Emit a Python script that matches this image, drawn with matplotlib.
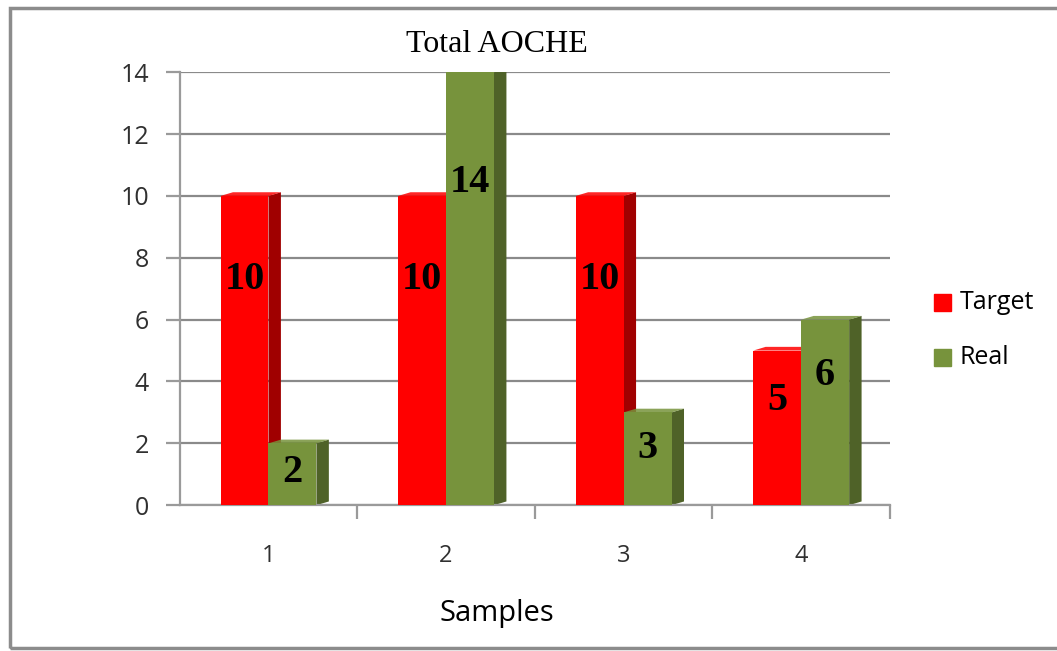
import numpy as np
import matplotlib.pyplot as plt
from matplotlib.patches import Polygon, Rectangle

samples = ["1", "2", "3", "4"]
target = [10, 10, 10, 5]
real = [2, 14, 3, 6]
yticks = [0, 2, 4, 6, 8, 10, 12, 14]

RED = "#FF0000"
RED_SIDE = "#A00000"
GREEN = "#77933C"
GREEN_SIDE = "#4F6228"
BAR_W = 0.27
DEPTH_X = 0.07
DEPTH_Y = 0.12


def draw_bar(ax, x, h, face, side):
    ax.bar(x, h, width=BAR_W, color=face, zorder=3, linewidth=0)
    right = x + BAR_W / 2
    # side face for a little 3D look
    ax.add_patch(Polygon([(right, 0), (right + DEPTH_X, DEPTH_Y),
                          (right + DEPTH_X, h + DEPTH_Y), (right, h)],
                         closed=True, color=side, zorder=2, linewidth=0))
    ax.add_patch(Polygon([(x - BAR_W / 2, h), (x - BAR_W / 2 + DEPTH_X, h + DEPTH_Y),
                          (right + DEPTH_X, h + DEPTH_Y), (right, h)],
                         closed=True, color=face, zorder=2, linewidth=0, alpha=0.85))


def main():
    fig = plt.figure(figsize=(10.57, 6.51), dpi=100)
    fig.patches.append(Rectangle((0.009, 0.005), 1.0, 0.983, transform=fig.transFigure,
                                 fill=False, edgecolor="#8c8c8c", linewidth=2.5))
    ax = fig.add_axes([0.170, 0.224, 0.672, 0.665])

    x = np.arange(1, len(samples) + 1)
    for i in range(len(samples)):
        draw_bar(ax, x[i] - BAR_W / 2, target[i], RED, RED_SIDE)
        draw_bar(ax, x[i] + BAR_W / 2, real[i], GREEN, GREEN_SIDE)
        ax.text(x[i] - BAR_W / 2, target[i] * 0.78 - 0.5, str(target[i]),
                ha="center", va="center", fontsize=29, fontweight="bold",
                family="Liberation Serif", zorder=5)
        ax.text(x[i] + BAR_W / 2, real[i] * 0.78 - 0.5, str(real[i]),
                ha="center", va="center", fontsize=29, fontweight="bold",
                family="Liberation Serif", zorder=5)

    ax.set_xlim(0.5, 4.5)
    ax.set_ylim(0, 14)
    ax.set_yticks(yticks)
    ax.yaxis.grid(True, color="#8a8a8a", linewidth=1.6, zorder=0)
    ax.set_axisbelow(True)
    for s in ["top", "right"]:
        ax.spines[s].set_visible(False)
    ax.spines["left"].set_color("#9a9a9a")
    ax.spines["bottom"].set_color("#9a9a9a")
    ax.spines["left"].set_linewidth(1.6)
    ax.spines["bottom"].set_linewidth(1.6)

    ax.set_xticks(x)
    ax.set_xticklabels(samples, fontsize=17, family="Open Sans", color="#303030")
    ax.set_xticks([1.5, 2.5, 3.5, 4.5], minor=True)
    ax.tick_params(axis="x", which="major", length=0, pad=28)
    ax.tick_params(axis="x", which="minor", length=10, width=1.6, color="#9a9a9a",
                   direction="out")
    ax.tick_params(axis="y", length=10, width=1.6, color="#9a9a9a", pad=12)
    for lab in ax.get_yticklabels():
        lab.set_fontsize(18)
        lab.set_family("Open Sans")
        lab.set_color("#303030")

    ax.set_xlabel("Samples", fontsize=21, family="Open Sans")
    ax.xaxis.set_label_coords(0.447, -0.217)
    fig.text(0.470, 0.932, "Total AOCHE", ha="center", va="center",
             fontsize=23, family="Liberation Serif")

    # legend
    fig.patches.append(Rectangle((0.884, 0.523), 0.016, 0.026, transform=fig.transFigure,
                                 color=RED))
    fig.patches.append(Rectangle((0.884, 0.438), 0.016, 0.026, transform=fig.transFigure,
                                 color=GREEN))
    fig.text(0.908, 0.536, "Target", va="center", fontsize=18, family="Open Sans")
    fig.text(0.908, 0.451, "Real", va="center", fontsize=18, family="Open Sans")

    fig.savefig("out.png", dpi=100)
    plt.close(fig)


if __name__ == "__main__":
    main()
